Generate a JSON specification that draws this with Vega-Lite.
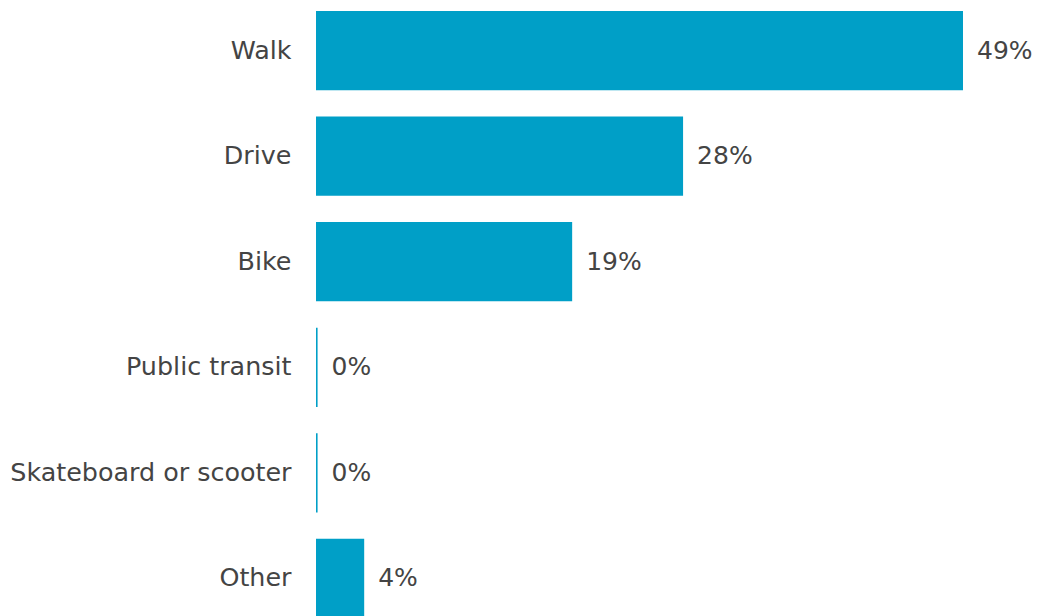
{
  "$schema": "https://vega.github.io/schema/vega-lite/v6.json",
  "width": 722,
  "height": 629,
  "autosize": {"type": "none"},
  "padding": {"left": 316, "top": 0, "right": 0, "bottom": 0},
  "background": "white",
  "config": {"view": {"stroke": null}, "font": "DejaVu Sans"},
  "data": {"values": [
    {"mode": "Walk", "value": 49.0, "label": "49%"},
    {"mode": "Drive", "value": 27.8, "label": "28%"},
    {"mode": "Bike", "value": 19.4, "label": "19%"},
    {"mode": "Public transit", "value": 0.12, "label": "0%"},
    {"mode": "Skateboard or scooter", "value": 0.12, "label": "0%"},
    {"mode": "Other", "value": 3.65, "label": "4%"}
  ]},
  "encoding": {
    "y": {"field": "mode", "type": "nominal", "sort": null,
      "scale": {"paddingInner": 0.25, "paddingOuter": 0.104},
      "axis": {"title": null, "ticks": false, "domain": false, "labelFontSize": 25.4, "labelColor": "#444444", "labelPadding": 25, "labelFont": "DejaVu Sans", "labelLimit": 400}},
    "x": {"field": "value", "type": "quantitative", "scale": {"domain": [0, 54.68], "nice": false}, "axis": null}
  },
  "layer": [
    {"mark": {"type": "bar", "color": "#009FC7"}},
    {"mark": {"type": "text", "align": "left", "baseline": "middle", "dx": 14, "fontSize": 25, "color": "#444444", "font": "DejaVu Sans"},
     "encoding": {"text": {"field": "label"}}}
  ]
}
